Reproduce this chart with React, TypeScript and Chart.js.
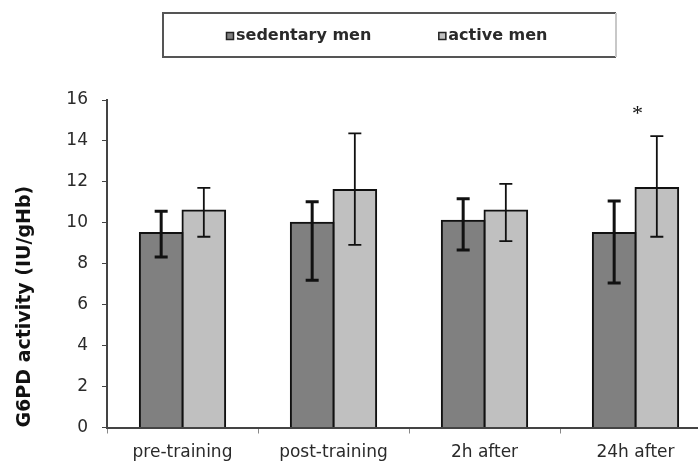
import React, { useEffect, useRef } from "react";
import { Chart, registerables } from "chart.js";

Chart.register(...registerables);

const CATEGORIES = ["pre-training", "post-training", "2h after", "24h after"];
const SERIES_NAMES = ["sedentary men", "active men"];
const SEDENTARY = [9.5, 10.0, 10.1, 9.5];
const SEDENTARY_LOW = [8.33, 7.2, 8.67, 7.06];
const SEDENTARY_HIGH = [10.57, 11.03, 11.18, 11.07];
const ACTIVE = [10.6, 11.6, 10.6, 11.7];
const ACTIVE_LOW = [9.32, 8.92, 9.11, 9.32];
const ACTIVE_HIGH = [11.71, 14.37, 11.9, 14.24];
const SIG_MARKS = ["", "", "", "*"];
const SIG_LEVEL = 15.3;
const Y_MIN = 0;
const Y_MAX = 16;
const Y_STEP = 2;
const Y_TITLE = "G6PD activity (IU/gHb)";

const errorBars = {
  id: "errorBars",
  afterDatasetsDraw(chart: any) {
    const ctx = chart.ctx;
    const y = chart.scales.y;
    chart.data.datasets.forEach((ds: any, i: number) => {
      const meta = chart.getDatasetMeta(i);
      ctx.save();
      ctx.strokeStyle = "#111";
      ctx.lineWidth = ds.errWidth;
      meta.data.forEach((bar: any, j: number) => {
        const yl = y.getPixelForValue(ds.errLow[j]);
        const yh = y.getPixelForValue(ds.errHigh[j]);
        const x = bar.x;
        ctx.beginPath();
        ctx.moveTo(x, yl);
        ctx.lineTo(x, yh);
        ctx.moveTo(x - 6.5, yl);
        ctx.lineTo(x + 6.5, yl);
        ctx.moveTo(x - 6.5, yh);
        ctx.lineTo(x + 6.5, yh);
        ctx.stroke();
      });
      ctx.restore();
    });
    ctx.save();
    ctx.fillStyle = "#111";
    ctx.font = '22px "Liberation Serif"';
    ctx.textAlign = "center";
    ctx.textBaseline = "middle";
    SIG_MARKS.forEach((m, j) => {
      if (!m) return;
      ctx.fillText(m, chart.scales.x.getPixelForValue(j) + 2, y.getPixelForValue(SIG_LEVEL));
    });
    ctx.restore();
  },
};

const legendFrame = {
  id: "legendFrame",
  afterDraw(chart: any) {
    const ctx = chart.ctx;
    ctx.save();
    const L = 163, T = 13, R = 616, B = 57;
    ctx.lineWidth = 2;
    ctx.strokeStyle = "#555";
    ctx.beginPath();
    ctx.moveTo(R, T);
    ctx.lineTo(L, T);
    ctx.lineTo(L, B);
    ctx.lineTo(R, B);
    ctx.stroke();
    ctx.strokeStyle = "#c8c8c8";
    ctx.beginPath();
    ctx.moveTo(R, T);
    ctx.lineTo(R, B);
    ctx.stroke();
    ctx.font = 'bold 16px "DejaVu Sans"';
    ctx.textBaseline = "middle";
    let x = L + 63;
    const cy = 36;
    chart.data.datasets.forEach((ds: any) => {
      ctx.fillStyle = ds.backgroundColor;
      ctx.fillRect(x, cy - 4, 8, 8);
      ctx.lineWidth = 1.5;
      ctx.strokeStyle = "#222";
      ctx.strokeRect(x + 0.5, cy - 3.5, 7, 7);
      ctx.fillStyle = "#2a2a2a";
      ctx.fillText(ds.label, x + 10, cy);
      x += 10 + ctx.measureText(ds.label).width + 67;
    });
    ctx.restore();
  },
};

export default function App() {
  const ref = useRef<HTMLCanvasElement | null>(null);
  useEffect(() => {
    if (!ref.current) return;
    const chart = new Chart(ref.current, {
      type: "bar",
      data: {
        labels: CATEGORIES,
        datasets: [
          {
            label: SERIES_NAMES[0],
            data: SEDENTARY,
            backgroundColor: "#808080",
            borderColor: "#111",
            borderWidth: 2,
            inflateAmount: 1,
            errLow: SEDENTARY_LOW,
            errHigh: SEDENTARY_HIGH,
            errWidth: 3,
          } as any,
          {
            label: SERIES_NAMES[1],
            data: ACTIVE,
            backgroundColor: "#c0c0c0",
            borderColor: "#111",
            borderWidth: 2,
            inflateAmount: 1,
            errLow: ACTIVE_LOW,
            errHigh: ACTIVE_HIGH,
            errWidth: 1.8,
          } as any,
        ],
      },
      options: {
        animation: false,
        responsive: true,
        maintainAspectRatio: false,
        layout: { padding: { top: 100, left: 0, right: 0, bottom: 0 } },
        datasets: { bar: { barPercentage: 1, categoryPercentage: 0.565 } },
        plugins: {
          legend: { display: false },
          tooltip: { enabled: false },
        },
        scales: {
          x: {
            offset: true,
            grid: {
              display: true,
              drawOnChartArea: false,
              drawTicks: true,
              tickLength: 6,
              color: "#888",
              offset: true,
            },
            border: { display: true, color: "#444", width: 2 },
            ticks: {
              color: "#2a2a2a",
              padding: 9,
              font: { family: "DejaVu Sans", size: 17 },
              maxRotation: 0,
            },
            afterFit: (s: any) => {
              s.height = 35.5;
            },
          },
          y: {
            min: Y_MIN,
            max: Y_MAX,
            ticks: {
              stepSize: Y_STEP,
              color: "#2a2a2a",
              padding: 14,
              font: { family: "DejaVu Sans", size: 17 },
            },
            grid: {
              display: true,
              drawOnChartArea: false,
              drawTicks: true,
              tickLength: 5,
              color: "#444",
            },
            border: { display: true, color: "#444", width: 2 },
            title: {
              display: true,
              text: Y_TITLE,
              align: "start",
              color: "#111",
              padding: { top: 14, bottom: 0 },
              font: { family: "DejaVu Sans", size: 19, weight: "bold" },
            },
            afterFit: (s: any) => {
              s.width = 107;
            },
          },
        },
      },
      plugins: [errorBars, legendFrame],
    });
    return () => chart.destroy();
  }, []);

  return (
    <div
      style={{
        position: "fixed",
        left: 0,
        top: 0,
        width: 698,
        height: 463,
        overflow: "hidden",
        background: "#fff",
      }}
    >
      <div style={{ position: "relative", width: 711, height: 463 }}>
        <canvas ref={ref} />
      </div>
    </div>
  );
}
